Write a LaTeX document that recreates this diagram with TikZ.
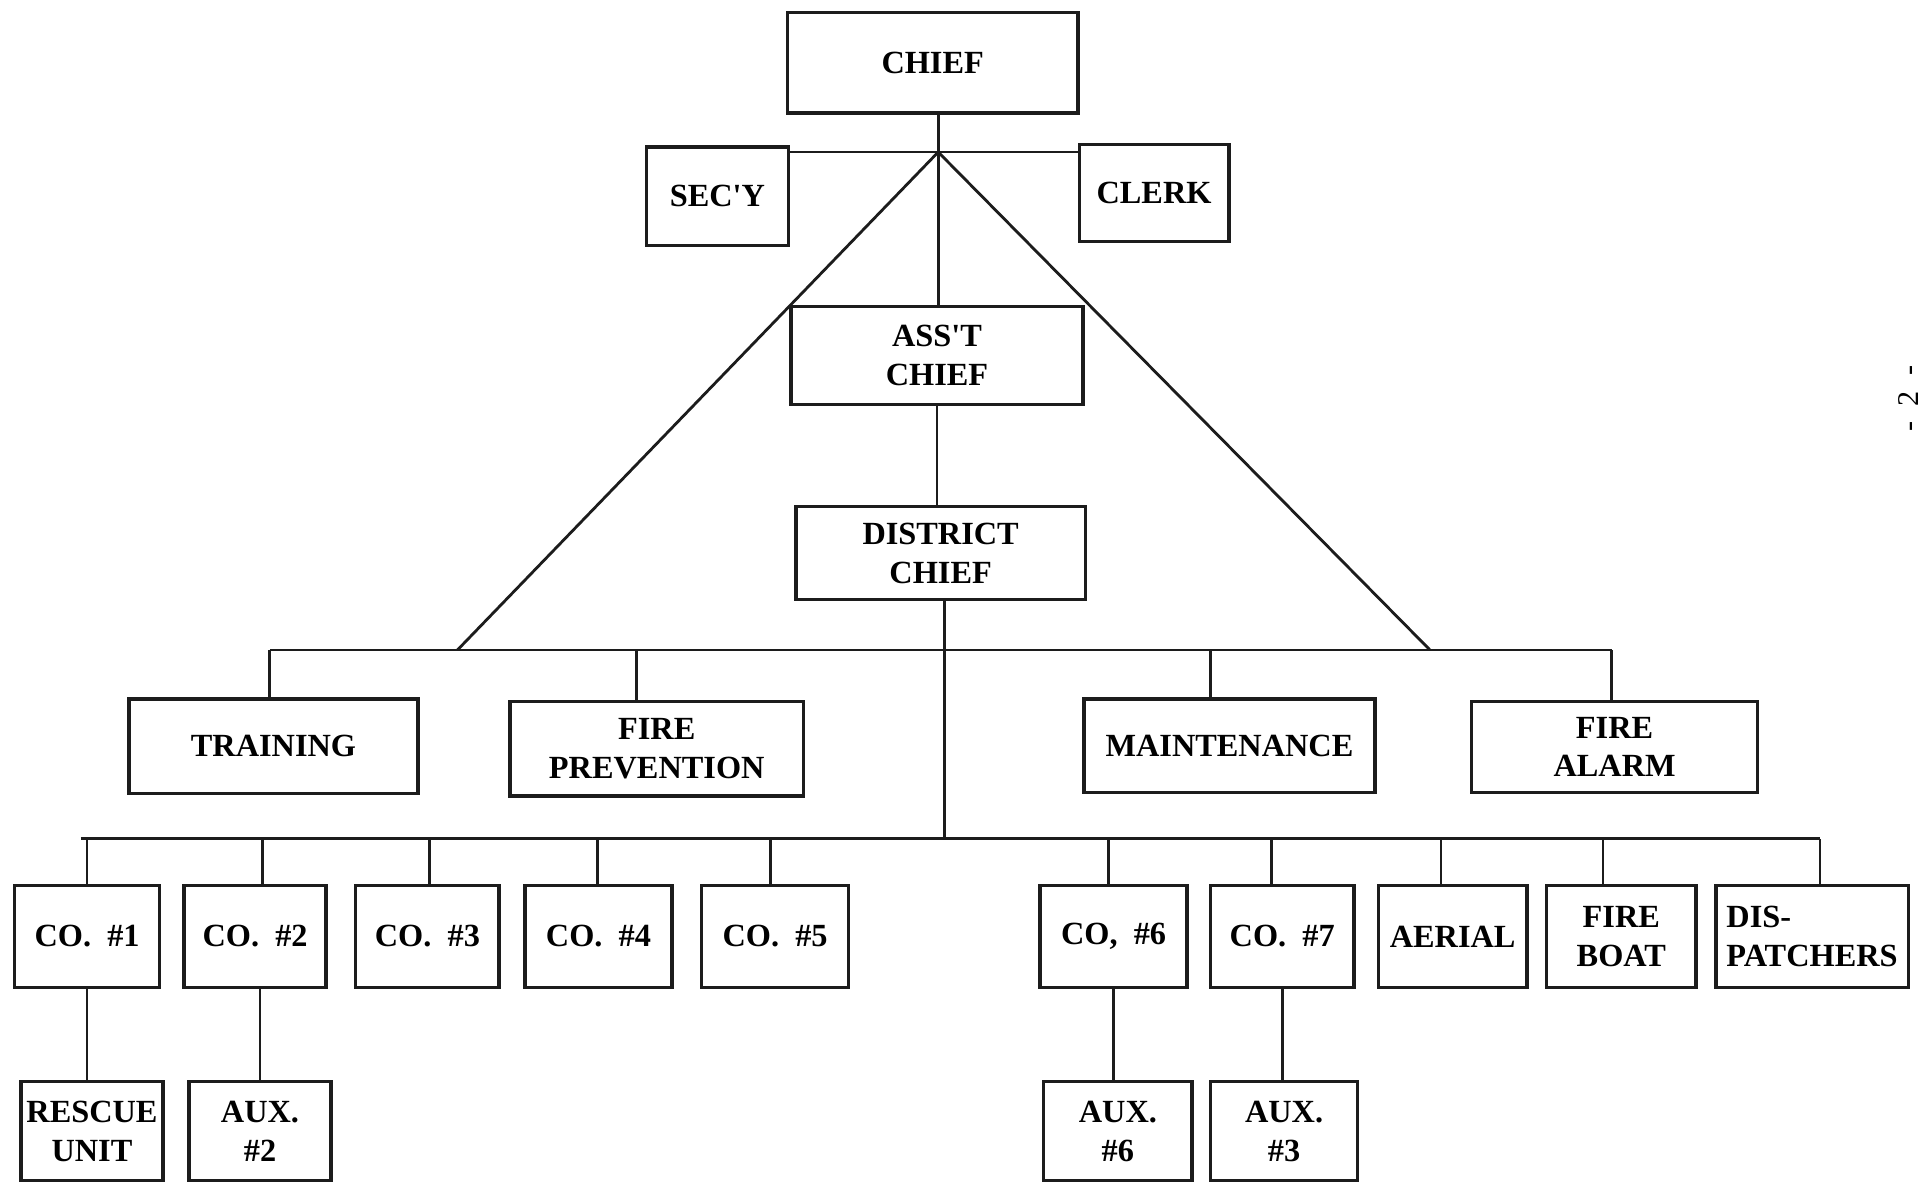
\documentclass[tikz,border=0pt]{standalone}
\usepackage{fontspec}
\setmainfont{Liberation Serif}
\usetikzlibrary{positioning}
\definecolor{inkDark}{HTML}{1C1C1C}
\tikzset{
  orgBox/.style={rectangle, draw=inkDark, line width=1.6pt, align=center,
                 font=\bfseries\fontsize{15}{18}\selectfont, inner sep=2pt},
  wideBox/.style={orgBox, minimum width=4.74cm, minimum height=1.54cm},
  coBox/.style={orgBox, minimum width=2.36cm, minimum height=1.66cm},
  auxBox/.style={orgBox, minimum width=2.34cm, minimum height=1.62cm},
  link/.style={draw=inkDark, line width=1.3pt},
}

\begin{document}
\begin{tikzpicture}[x=0.02cm, y=-0.02cm]
  \useasboundingbox[fill=white] (0,0) rectangle (1568,963);
  \clip (0,0) rectangle (1568,963);

  % head office
  \node[wideBox, minimum height=1.64cm] (chief) at (760.5,51) {CHIEF};
  \node[orgBox, minimum width=2.32cm, minimum height=1.6cm] (secy) at (585,160) {SEC\textquotesingle Y};
  \node[orgBox, minimum width=2.44cm, minimum height=1.58cm] (clerk) at (941,157.5) {CLERK};
  \node[wideBox, minimum width=4.76cm, minimum height=1.6cm] (asst) at (764,290) {ASS\textquotesingle T\\CHIEF};
  \node[wideBox, minimum width=4.72cm, minimum height=1.52cm] (district) at (767,451) {DISTRICT\\CHIEF};

  % staff divisions
  \node[wideBox, minimum width=4.72cm] (training) at (223,608.5) {TRAINING};
  \node[wideBox, minimum width=4.78cm] (fireprev) at (535.5,610.5) {FIRE\\PREVENTION};
  \node[wideBox, minimum height=1.52cm] (maint) at (1002.5,608) {MAINTENANCE};
  \node[wideBox, minimum width=4.66cm, minimum height=1.48cm] (alarm) at (1316.5,609) {FIRE\\ALARM};

  % companies
  \node[coBox] (co1) at (71,763.5) {CO.\enskip\#1};
  \node[coBox, minimum width=2.32cm] (co2) at (208,763.5) {CO.\enskip\#2};
  \node[coBox, minimum width=2.34cm] (co3) at (348.5,763.5) {CO.\enskip\#3};
  \node[coBox, minimum width=2.40cm] (co4) at (488,763.5) {CO.\enskip\#4};
  \node[coBox, minimum width=2.40cm] (co5) at (632,763.5) {CO.\enskip\#5};
  \node[coBox, minimum width=2.40cm] (co6) at (908,763.5) {CO,\enskip\#6};
  \node[coBox, minimum width=2.34cm] (co7) at (1045.5,763.5) {CO.\enskip\#7};
  \node[coBox, minimum width=2.42cm] (aerial) at (1184.5,763.5) {AERIAL};
  \node[coBox, minimum width=2.44cm] (fireboat) at (1322,763.5) {FIRE\\BOAT};
  \node[coBox, minimum width=3.14cm, align=left] (dispatch) at (1477.5,763.5) {DIS-\\PATCHERS};

  % units under companies
  \node[auxBox, minimum width=2.32cm] (rescue) at (75,922.5) {RESCUE\\UNIT};
  \node[auxBox, minimum width=2.32cm] (aux2) at (212,922.5) {AUX.\\\#2};
  \node[auxBox, minimum width=2.42cm] (aux6) at (911.5,922.5) {AUX.\\\#6};
  \node[auxBox, minimum width=2.40cm] (aux3) at (1047,922.5) {AUX.\\\#3};

  \node[font=\fontsize{14}{16}\selectfont, rotate=90] (pagenum) at (1556,325) {-~~2~~-};

  % bus lines
  \coordinate (hub) at (765,124);
  \coordinate (upL) at (220,530);
  \coordinate (upR) at (1314,530);
  \coordinate (diagL) at (373,530);
  \coordinate (diagR) at (1166,530);
  \coordinate (lowL) at (66,684);
  \coordinate (lowR) at (1484,684);
  \coordinate (lowMid) at (770,684);

  \draw[link] (hub |- chief.south) -- (hub);
  \draw[link] (hub -| secy.east) -- (hub -| clerk.west);
  \draw[link] (hub) -- (hub |- asst.north);
  \draw[link] (asst.south) -- (asst.south |- district.north);
  \draw[link] (diagL) -- (hub) -- (diagR);
  \draw[link] (upL) -- (upR);
  \draw[link] (lowMid |- district.south) -- (lowMid);
  \draw[link] (lowL) -- (lowR);

  \foreach \n/\x in {training/220, fireprev/519, maint/987, alarm/1314}
    {\path (\x,530) coordinate (tap); \draw[link] (tap) -- (tap |- \n.north);}
  \foreach \n/\x in {co1/71, co2/214, co3/350, co4/487, co5/628, co6/904,
                     co7/1037, aerial/1175, fireboat/1307, dispatch/1484}
    {\path (\x,684) coordinate (tap); \draw[link] (tap) -- (tap |- \n.north);}

  \draw[link] (co1.south) -- (co1.south |- rescue.north);
  \draw[link] (aux2.north) -- (aux2.north |- co2.south);
  \draw[link] (co6.south) -- (co6.south |- aux6.north);
  \draw[link] (co7.south) -- (co7.south |- aux3.north);
\end{tikzpicture}
\end{document}
